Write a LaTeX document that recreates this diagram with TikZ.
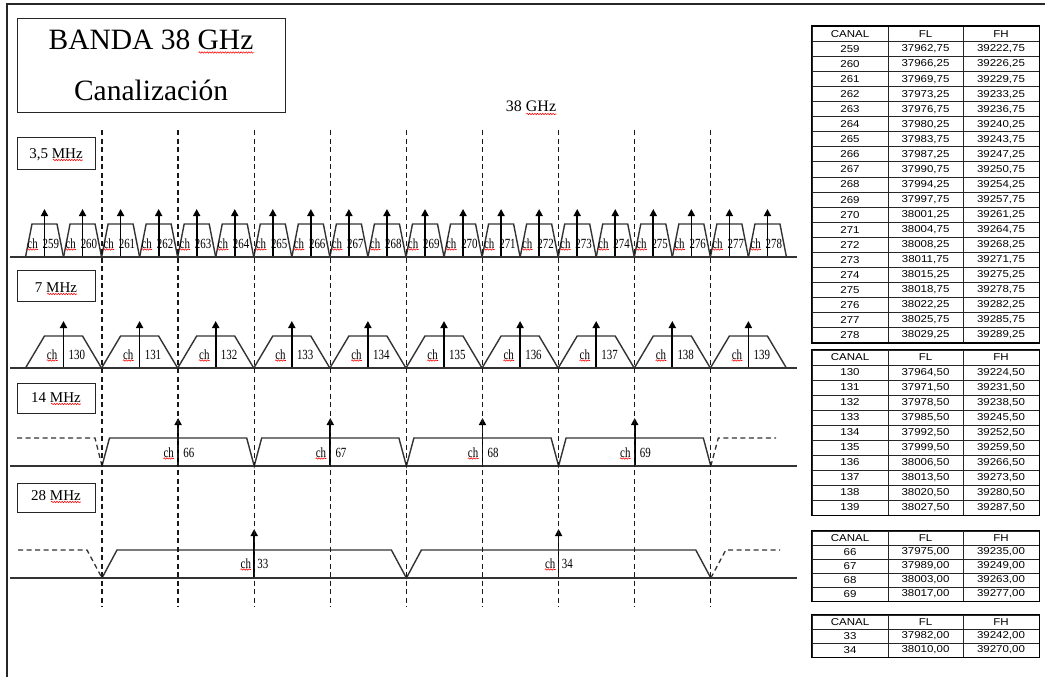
\documentclass[tikz,border=0pt]{standalone}
\usepackage{fontspec}
\usepackage{graphicx}
\setmainfont{Liberation Serif}
\newfontfamily\tabfont{Liberation Sans}
\usetikzlibrary{arrows.meta,decorations.pathmorphing}
\newcommand\condn[1]{\scalebox{0.78}[1]{#1}}
\newcommand\widen[1]{\scalebox{1.15}[1]{#1}}
\newcommand\chtable[5]{%
  \node[tcell, minimum width=76pt, minimum height=#3pt] (#1-h1) at (850,{#2+#3/2}) {\widen{CANAL}};
  \node[tcell, minimum width=75pt, minimum height=#3pt] (#1-h2) at (925.5,{#2+#3/2}) {\widen{FL}};
  \node[tcell, minimum width=76pt, minimum height=#3pt] (#1-h3) at (1001,{#2+#3/2}) {\widen{FH}};
  \foreach \ca/\fl/\fh [count=\r] in {#5} {
    \node[tcell, minimum width=76pt, minimum height=#3pt] (#1-\r-a) at (850,{#2+#3*(\r+0.5)}) {\widen{\ca}};
    \node[tcell, minimum width=75pt, minimum height=#3pt] (#1-\r-b) at (925.5,{#2+#3*(\r+0.5)}) {\widen{\fl}};
    \node[tcell, minimum width=76pt, minimum height=#3pt] (#1-\r-c) at (1001,{#2+#3*(\r+0.5)}) {\widen{\fh}};
  }
  \draw[tborder] (#1-h1.north west) rectangle (#1-#4-c.south east);
}
\begin{document}
\begin{tikzpicture}[x=1pt,y=-1pt,
  outerframe/.style={line width=1.6pt, draw=black!85},
  boxst/.style={draw=black!85, line width=1.3pt, inner sep=0pt},
  axisline/.style={line width=1.7pt, draw=black!80},
  trap/.style={line width=1.4pt, draw=black!80, line join=miter},
  vline/.style={line width=1.3pt, dash pattern=on 5pt off 3.5pt, draw=black!90},
  ghost/.style={line width=1.3pt, dash pattern=on 5pt off 3.5pt, draw=black!80},
  carrier/.style={line width=1.7pt, draw=black, -{Triangle[width=7pt,length=7pt]}},
  chl/.style={font=\fontsize{14}{14}\selectfont, inner sep=0pt},
  lbltxt/.style={font=\fontsize{15}{15}\selectfont, inner sep=0pt, anchor=base},
  squig/.style={draw=red, line width=0.55pt, decorate, decoration={snake, amplitude=0.7pt, segment length=2.6pt}},
  tcell/.style={draw=black!85, line width=1pt, inner sep=0pt, font=\tabfont\fontsize{10}{10}\selectfont},
  tborder/.style={draw=black, line width=1.5pt},
]
\useasboundingbox (0,0) rectangle (1045,677);
\fill[white] (0,0) rectangle (1045,677);
\draw[outerframe] (7,677) -- (7,4) -- (1045,4);

% title
\node[boxst, anchor=north west, minimum width=268pt, minimum height=94pt] (titlebox) at (17,18) {};
\node[font=\fontsize{29.5}{29.5}\selectfont, inner sep=0pt, anchor=base] (t1) at (151,50) {BANDA 38 GHz};
\node[font=\fontsize{29.5}{29.5}\selectfont, inner sep=0pt, anchor=base] (t2) at (151,100) {Canalización};
\draw[squig] ([xshift=-55pt,yshift=-2.5pt]t1.base east) -- ([yshift=-2.5pt]t1.base east);
\node[font=\fontsize{16}{16}\selectfont, inner sep=0pt, anchor=base] (band) at (531,112) {38 GHz};
\draw[squig] ([xshift=-30pt,yshift=-2pt]band.base east) -- ([yshift=-2pt]band.base east);

% label boxes
\node[boxst, anchor=north west, minimum width=78pt, minimum height=32pt] (b1) at (17,137) {};
\node[lbltxt] (l1) at (56,158) {3,5 MHz};
\node[boxst, anchor=north west, minimum width=78pt, minimum height=31pt] (b2) at (17,270) {};
\node[lbltxt] (l2) at (56,292) {7 MHz};
\node[boxst, anchor=north west, minimum width=78pt, minimum height=30pt] (b3) at (17,383) {};
\node[lbltxt] (l3) at (56,402) {14 MHz};
\node[boxst, anchor=north west, minimum width=78pt, minimum height=29pt] (b4) at (17,483) {};
\node[lbltxt] (l4) at (56,500) {28 MHz};
\foreach \n in {l1,l2,l3,l4}
  \draw[squig] ([xshift=-30pt,yshift=-2pt]\n.base east) -- ([yshift=-2pt]\n.base east);

% row 1 : 3,5 MHz
\foreach \i in {0,...,19} {
  \pgfmathsetmacro\cx{44.5+38.05*\i}
  \pgfmathtruncatemacro\num{259+\i}
  \draw[trap] ({\cx-19},257) -- ({\cx-12.5},224) -- ({\cx+12.5},224) -- ({\cx+19},257);
  \coordinate (r1b\i) at (\cx,257);
  \coordinate (r1t\i) at (\cx,209);
  \draw[carrier] (r1b\i) -- (r1t\i);
  \node[chl, anchor=base east] (r1c\i) at ({\cx-6.5},248) {\condn{ch}};
  \node[chl, anchor=base west] (r1n\i) at ({\cx-2},248) {\condn{\num}};
  \draw[squig] ([yshift=-1.5pt]r1c\i.base west) -- ([yshift=-1.5pt]r1c\i.base east);
}
\draw[axisline] (10,257) -- (797,257);

% row 2 : 7 MHz
\foreach \i in {0,...,9} {
  \pgfmathsetmacro\cx{63.5+76.1*\i}
  \pgfmathtruncatemacro\num{130+\i}
  \draw[trap] ({\cx-38},368) -- ({\cx-19},336) -- ({\cx+19},336) -- ({\cx+38},368);
  \coordinate (r2b\i) at (\cx,368);
  \coordinate (r2t\i) at (\cx,321);
  \draw[carrier] (r2b\i) -- (r2t\i);
  \node[chl, anchor=base east] (r2c\i) at ({\cx-6},359) {\condn{ch}};
  \node[chl, anchor=base west] (r2n\i) at ({\cx+5},359) {\condn{\num}};
  \draw[squig] ([yshift=-1.5pt]r2c\i.base west) -- ([yshift=-1.5pt]r2c\i.base east);
}
\draw[axisline] (10,368) -- (797,368);

% row 3 : 14 MHz
\draw[ghost] (17,438) -- (95,438) -- (102,466);
\draw[trap] (102,466) -- (109.5,438) -- (246.7,438) -- (254.2,466) -- (261.7,438) -- (398.9,438) -- (406.4,466) -- (413.9,438) -- (551.1,438) -- (558.6,466) -- (566.1,438) -- (703.3,438) -- (710.8,466);
\draw[ghost] (710.8,466) -- (718.3,438) -- (776,438);
\foreach \i/\num in {0/66,1/67,2/68,3/69} {
  \pgfmathsetmacro\cx{178.1+152.2*\i}
  \coordinate (r3b\i) at (\cx,466);
  \coordinate (r3t\i) at (\cx,418);
  \draw[carrier] (r3b\i) -- (r3t\i);
  \node[chl, anchor=base east] (r3c\i) at ({\cx-4},457) {\condn{ch}};
  \node[chl, anchor=base west] (r3n\i) at ({\cx+5},457) {\condn{\num}};
  \draw[squig] ([yshift=-1.5pt]r3c\i.base west) -- ([yshift=-1.5pt]r3c\i.base east);
}
\draw[axisline] (10,466) -- (797,466);

% row 4 : 28 MHz
\draw[ghost] (18,550) -- (87,550) -- (102,578);
\draw[trap] (102,578) -- (117,550) -- (391.4,550) -- (406.4,578) -- (421.4,550) -- (695.8,550) -- (710.8,578);
\draw[ghost] (710.8,578) -- (725.8,550) -- (780,550);
\foreach \i/\num in {0/33,1/34} {
  \pgfmathsetmacro\cx{254.2+304.4*\i}
  \coordinate (r4b\i) at (\cx,578);
  \coordinate (r4t\i) at (\cx,529);
  \draw[carrier] (r4b\i) -- (r4t\i);
  \node[chl, anchor=base east] (r4c\i) at ({\cx-3},568) {\condn{ch}};
  \node[chl, anchor=base west] (r4n\i) at ({\cx+3},568) {\condn{\num}};
  \draw[squig] ([yshift=-1.5pt]r4c\i.base west) -- ([yshift=-1.5pt]r4c\i.base east);
}
\draw[axisline] (10,578) -- (797,578);

% vertical dashed separators
\foreach \k in {0,...,8} {
  \coordinate (vt\k) at ({102+76.1*\k},130);
  \coordinate (vb\k) at ({102+76.1*\k},607);
  \draw[vline] (vt\k) -- (vb\k);
}

% tables
\chtable{ta}{26.5}{15.05}{20}{259/{37962,75}/{39222,75},260/{37966,25}/{39226,25},261/{37969,75}/{39229,75},262/{37973,25}/{39233,25},263/{37976,75}/{39236,75},264/{37980,25}/{39240,25},265/{37983,75}/{39243,75},266/{37987,25}/{39247,25},267/{37990,75}/{39250,75},268/{37994,25}/{39254,25},269/{37997,75}/{39257,75},270/{38001,25}/{39261,25},271/{38004,75}/{39264,75},272/{38008,25}/{39268,25},273/{38011,75}/{39271,75},274/{38015,25}/{39275,25},275/{38018,75}/{39278,75},276/{38022,25}/{39282,25},277/{38025,75}/{39285,75},278/{38029,25}/{39289,25}}
\chtable{tb}{350}{15}{10}{130/{37964,50}/{39224,50},131/{37971,50}/{39231,50},132/{37978,50}/{39238,50},133/{37985,50}/{39245,50},134/{37992,50}/{39252,50},135/{37999,50}/{39259,50},136/{38006,50}/{39266,50},137/{38013,50}/{39273,50},138/{38020,50}/{39280,50},139/{38027,50}/{39287,50}}
\chtable{tc}{531}{14}{4}{66/{37975,00}/{39235,00},67/{37989,00}/{39249,00},68/{38003,00}/{39263,00},69/{38017,00}/{39277,00}}
\chtable{td}{615}{14}{2}{33/{37982,00}/{39242,00},34/{38010,00}/{39270,00}}
\end{tikzpicture}
\end{document}
